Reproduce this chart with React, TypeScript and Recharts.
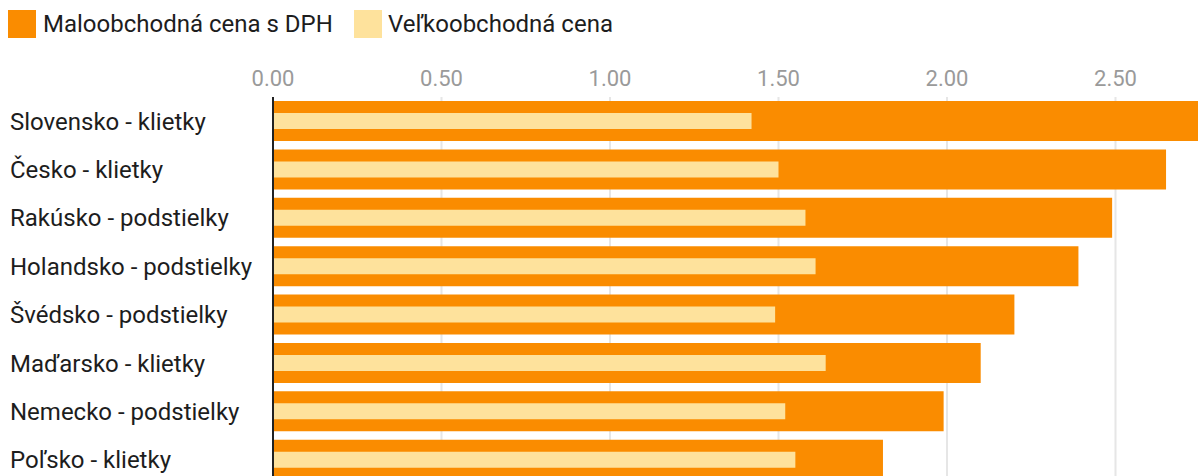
import React from "react";
import { BarChart, Bar, XAxis, YAxis, CartesianGrid } from "recharts";

const categories = [
  "Slovensko - klietky",
  "Česko - klietky",
  "Rakúsko - podstielky",
  "Holandsko - podstielky",
  "Švédsko - podstielky",
  "Maďarsko - klietky",
  "Nemecko - podstielky",
  "Poľsko - klietky",
];
const retailPrices = [2.79, 2.65, 2.49, 2.39, 2.2, 2.1, 1.99, 1.81];
const wholesalePrices = [1.42, 1.5, 1.58, 1.61, 1.49, 1.64, 1.52, 1.55];
const xTicks = [0, 0.5, 1, 1.5, 2, 2.5];
const seriesNames = ["Maloobchodná cena s DPH", "Veľkoobchodná cena"];
const seriesColors = ["#fa8c00", "#fee29c"];

const data = categories.map((name, i) => ({
  name,
  retail: retailPrices[i],
  wholesale: wholesalePrices[i],
}));

const FONT = "Roboto, 'Noto Sans', sans-serif";

const CategoryTick = (props: any) => {
  const { y, payload } = props;
  return (
    <text x={10} y={y} dy="0.355em" textAnchor="start" fontSize={24} fill="#1d1d1d" fontFamily={FONT}>
      {payload.value}
    </text>
  );
};

export default function App() {
  return (
    <div
      style={{
        position: "absolute",
        left: 0,
        top: 0,
        width: 1198,
        height: 476,
        overflow: "hidden",
        background: "#fff",
        fontFamily: FONT,
      }}
    >
      {seriesNames.map((n, i) => (
        <div
          key={n}
          style={{
            position: "absolute",
            left: i === 0 ? 8 : 354,
            top: 10,
            display: "flex",
            alignItems: "center",
            whiteSpace: "nowrap",
          }}
        >
          <span style={{ display: "inline-block", width: 28, height: 28, background: seriesColors[i] }} />
          <span style={{ marginLeft: i === 0 ? 7 : 6, fontSize: 24, color: "#1d1d1d", lineHeight: "28px" }}>{n}</span>
        </div>
      ))}
      <div style={{ position: "absolute", left: 0, top: 0 }}>
        <BarChart
          width={1300}
          height={500}
          data={data}
          layout="vertical"
          margin={{ top: 57, right: 16, bottom: 16, left: 0 }}
          barCategoryGap={0}
        >
          <CartesianGrid horizontal={false} vertical={true} stroke="#e6e6e6" strokeWidth={2} />
          <XAxis
            type="number"
            orientation="top"
            domain={[0, 3]}
            ticks={xTicks}
            height={40}
            tickLine={false}
            axisLine={false}
            tickSize={6}
            tickMargin={5}
            tickFormatter={(v: number) => v.toFixed(2)}
            tick={{ fontSize: 22, fill: "#9a9a9a", fontFamily: FONT }}
            interval={0}
          />
          <YAxis
            yAxisId="retail"
            type="category"
            dataKey="name"
            width={273}
            tickLine={false}
            axisLine={{ stroke: "#222", strokeWidth: 2 }}
            tick={<CategoryTick />}
            interval={0}
          />
          <YAxis yAxisId="whole" type="category" dataKey="name" hide width={273} />
          <Bar
            yAxisId="retail"
            dataKey="retail"
            name={seriesNames[0]}
            fill={seriesColors[0]}
            barSize={40}
            isAnimationActive={false}
          />
          <Bar
            yAxisId="whole"
            dataKey="wholesale"
            name={seriesNames[1]}
            fill={seriesColors[1]}
            barSize={16}
            isAnimationActive={false}
          />
        </BarChart>
      </div>
    </div>
  );
}
